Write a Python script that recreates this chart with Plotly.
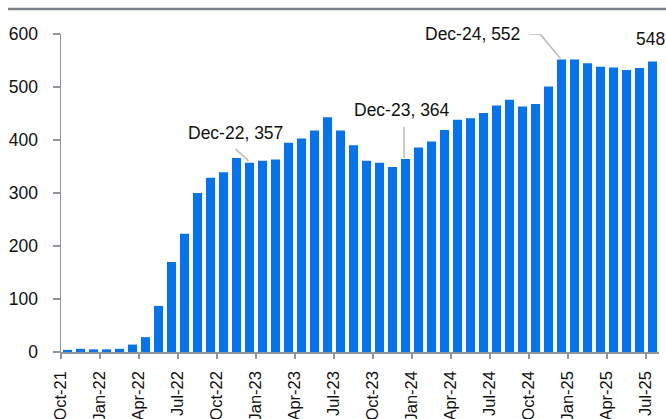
import plotly.graph_objects as go

months = ["Oct-21", "Nov-21", "Dec-21", "Jan-22", "Feb-22", "Mar-22", "Apr-22", "May-22", "Jun-22",
          "Jul-22", "Aug-22", "Sep-22", "Oct-22", "Nov-22", "Dec-22",
          "Jan-23", "Feb-23", "Mar-23", "Apr-23", "May-23", "Jun-23", "Jul-23", "Aug-23", "Sep-23", "Oct-23", "Nov-23", "Dec-23",
          "Jan-24", "Feb-24", "Mar-24", "Apr-24", "May-24", "Jun-24", "Jul-24", "Aug-24", "Sep-24", "Oct-24", "Nov-24", "Dec-24",
          "Jan-25", "Feb-25", "Mar-25", "Apr-25", "May-25", "Jun-25", "Jul-25"]
values = [4, 6, 5, 5, 6, 14, 28, 87, 170,
          223, 300, 329, 339, 366, 357,
          361, 363, 395, 403, 418, 443, 418, 390, 361, 357, 349, 364,
          386, 397, 419, 438, 441, 451, 465, 476, 463, 468, 501, 552,
          552, 545, 538, 537, 532, 536, 548]
tick_labels = ["Oct-21", "Jan-22", "Apr-22", "Jul-22", "Oct-22", "Jan-23", "Apr-23", "Jul-23",
               "Oct-23", "Jan-24", "Apr-24", "Jul-24", "Oct-24", "Jan-25", "Apr-25", "Jul-25"]
y_ticks = [0, 100, 200, 300, 400, 500, 600]

# callouts: month, show month name in label?, pixel offsets of label (style), leader path (pixels, style)
callouts = [
    ("Dec-22", True, -14, 30, "M -1,2 L -14,14"),
    ("Dec-23", True, -3.5, 49, "M -1.5,1 L -1.5,32"),
    ("Dec-24", True, -89.5, 25, "M -1,1 L -21.5,25.5 L -32.5,25.5"),
    ("Jul-25", False, -2, 23, None),
]

FONT = "Liberation Sans, Arial, sans-serif"
FS = 17.5
XFS = 16.5
AXIS = "#8E959C"
BLUE = "#0873E8"

idx = list(range(len(months)))
tickvals = [months.index(t) - 0.5 for t in tick_labels]

fig = go.Figure(go.Bar(x=idx, y=values, marker_color=BLUE, marker_line_width=0, width=0.7,
                       hoverinfo="skip"))

for m, show_name, dx, dy, path in callouts:
    i = months.index(m)
    v = values[i]
    txt = f"{m}, {v}" if show_name else f"{v}"
    fig.add_annotation(x=i, y=v, text=txt, showarrow=False, xshift=dx, yshift=dy,
                       font=dict(family=FONT, size=FS, color="#111111"))
    if path:
        fig.add_shape(type="path", xref="x", yref="y", xsizemode="pixel", ysizemode="pixel",
                      xanchor=i, yanchor=v, path=path,
                      line=dict(color="#BDBDBD", width=1.6))

# top rule
fig.add_shape(type="line", xref="paper", yref="paper", x0=-0.0886, x1=1.02, y0=1.0786, y1=1.0786,
              line=dict(color="#7A8189", width=2.3))

fig.update_layout(
    width=666, height=419, autosize=False,
    margin=dict(l=61, r=7, t=34, b=67, autoexpand=False),
    paper_bgcolor="white", plot_bgcolor="white",
    showlegend=False, bargap=0.3,
    font=dict(family=FONT, size=FS, color="#111111"),
)
fig.update_xaxes(range=[-0.5, len(months) - 0.5], tickmode="array", tickvals=tickvals, ticktext=tick_labels,
                 tickangle=-90, ticks="outside", ticklen=5, tickwidth=1.5, tickcolor=AXIS,
                 showline=True, linecolor=AXIS, linewidth=1.5, showgrid=False, zeroline=False,
                 automargin=False, ticklabelstandoff=6,
                 tickfont=dict(family=FONT, size=XFS, color="#111111"))
fig.update_yaxes(range=[0, 600], tickmode="array", tickvals=y_ticks, ticks="outside", ticklen=7,
                 tickwidth=1.5, tickcolor=AXIS, showline=True, linecolor=AXIS, linewidth=1.5,
                 showgrid=False, zeroline=False, ticklabelstandoff=11, automargin=False,
                 tickfont=dict(family=FONT, size=FS, color="#111111"))

fig.write_html("out.html", config={"displayModeBar": False, "staticPlot": True},
               post_script="document.body.style.margin='0';document.body.style.overflow='hidden';")
